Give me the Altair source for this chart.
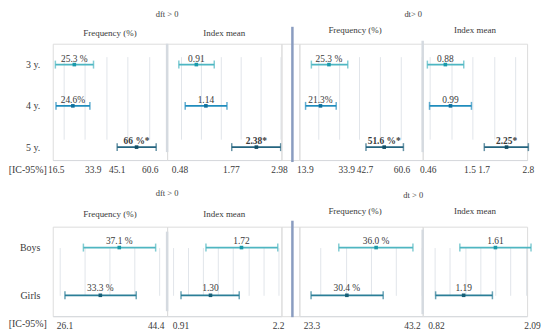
import altair as alt
import pandas as pd

SERIF = "Liberation Serif, Times New Roman, serif"
TXT = "#3a3a3a"

# ---------------- data ----------------
age_groups = ["3 y.", "4 y.", "5 y."]
sex_groups = ["Boys", "Girls"]
significant = ["5 y."]

group_titles_top = ["dft > 0", "dt> 0"]
group_titles_bottom = ["dft > 0", "dt > 0"]
column_titles = ["Frequency (%)", "Index mean"]
ic_label = "[IC-95%]"

# top: age groups
dft_age_freq_mid = [25.0, 24.3, 54.2]
dft_age_freq_lo = [16.1, 16.4, 45.1]
dft_age_freq_hi = [34.0, 32.3, 63.4]
dft_age_freq_txt = ["25.3 %", "24.6%", "66 %*"]
dft_age_freq_ticks = [16.5, 33.9, 45.1, 60.6]

dft_age_idx_mid = [0.89, 1.13, 2.40]
dft_age_idx_lo = [0.45, 0.61, 1.78]
dft_age_idx_hi = [1.34, 1.66, 3.01]
dft_age_idx_txt = ["0.91", "1.14", "2.38*"]
dft_age_idx_ticks = [0.48, 1.77, 2.98]

dt_age_freq_mid = [25.3, 21.2, 52.0]
dt_age_freq_lo = [16.8, 14.0, 43.2]
dt_age_freq_hi = [34.4, 28.8, 61.3]
dt_age_freq_txt = ["25.3 %", "21.3%", "51.6 %*"]
dt_age_freq_ticks = [13.9, 33.9, 42.7, 60.6]

dt_age_idx_mid = [0.86, 0.98, 2.29]
dt_age_idx_lo = [0.44, 0.49, 1.77]
dt_age_idx_hi = [1.29, 1.47, 2.80]
dt_age_idx_txt = ["0.88", "0.99", "2.25*"]
dt_age_idx_ticks = [0.46, 1.5, 1.7, 2.8]

# bottom: sex
dft_sex_freq_mid = [37.0, 33.2]
dft_sex_freq_lo = [29.8, 26.1]
dft_sex_freq_hi = [44.3, 40.4]
dft_sex_freq_txt = ["37.1 %", "33.3 %"]
dft_sex_freq_ticks = [26.1, 44.4]

dft_sex_idx_mid = [1.71, 1.30]
dft_sex_idx_lo = [1.24, 0.91]
dft_sex_idx_hi = [2.19, 1.68]
dft_sex_idx_txt = ["1.72", "1.30"]
dft_sex_idx_ticks = [0.91, 2.2]

dt_sex_freq_mid = [36.0, 30.2]
dt_sex_freq_lo = [28.6, 23.1]
dt_sex_freq_hi = [43.3, 37.4]
dt_sex_freq_txt = ["36.0 %", "30.4 %"]
dt_sex_freq_ticks = [23.3, 43.2]

dt_sex_idx_mid = [1.60, 1.18]
dt_sex_idx_lo = [1.13, 0.81]
dt_sex_idx_hi = [2.07, 1.56]
dt_sex_idx_txt = ["1.61", "1.19"]
dt_sex_idx_ticks = [0.82, 2.09]

# ---------------- styles ----------------
age_colors = ["#4db6c2", "#1f8cbd", "#24647f"]
age_dots = ["#1a9aab", "#0f6f9c", "#114e66"]
sex_colors = ["#4fb6c1", "#2b7e97"]
sex_dots = ["#1a98a8", "#175f77"]

GRID = "#e1e5ea"
DOMAIN = "#d6d9dd"
SEP_LIGHT = "#d5dae0"
SEP_DARK = "#8a9cc0"

WA, WB, WGAP, WC, WD = 115, 115, 18, 124, 105
H1, H2 = 117, 90

FS_GROUP = 8.5
FS_COL = 9
FS_DATA = 9.5
FS_TICK = 9.5
FS_ROW = 10
FS_IC = 10


def const_text(text, x, y, size, align="center"):
    return alt.Chart(pd.DataFrame({"t": [text]})).mark_text(
        font=SERIF, fontSize=size, align=align, baseline="middle", color=TXT
    ).encode(x=alt.value(x), y=alt.value(y), text="t:N")


def vline(x, y1, y2, color, w):
    return alt.Chart(pd.DataFrame({"a": [0]})).mark_rule(
        color=color, strokeWidth=w
    ).encode(x=alt.value(x), y=alt.value(y1), y2=alt.value(y2))


def tick_table(ticks, domain, width, min_px=12):
    """Join labels that would sit on top of each other into one text."""
    px_per_unit = width / (domain[1] - domain[0])
    groups = [[ticks[0]]]
    for t in ticks[1:]:
        if (t - groups[-1][-1]) * px_per_unit < min_px:
            groups[-1].append(t)
        else:
            groups.append([t])
    return pd.DataFrame({
        "v": [sum(g) / len(g) for g in groups],
        "s": [" ".join(str(t) for t in g) for g in groups],
    })


def panel(cats, colors, dots, mid, lo, hi, txt, ticks, domain, width, height,
          yrange, tickcount, label_dy, show_y=False, extras=()):
    df = pd.DataFrame({"cat": cats, "mid": mid, "lo": lo, "hi": hi, "txt": txt})
    xs = alt.Scale(domain=domain, nice=False, zero=False)
    xaxis = alt.Axis(title=None, labels=False, ticks=False, grid=True,
                     gridColor=GRID, gridWidth=1, domainColor=DOMAIN,
                     domainWidth=1, tickCount=tickcount)
    ys = alt.Scale(type="point", domain=cats, range=yrange, padding=0)
    if show_y:
        yaxis = alt.Axis(title=None, domain=False, ticks=False, grid=False,
                         labelPadding=13, labelFont=SERIF, labelFontSize=FS_ROW,
                         labelColor=TXT)
    else:
        yaxis = None
    Y = alt.Y("cat:N", scale=ys, axis=yaxis, sort=cats)
    col = alt.Color("cat:N", scale=alt.Scale(domain=cats, range=colors), legend=None)

    base = alt.Chart(df)
    rule = base.mark_rule(strokeWidth=1.7).encode(
        x=alt.X("lo:Q", scale=xs, axis=xaxis), x2="hi:Q", y=Y, color=col)
    cap_lo = base.mark_tick(size=8, thickness=1.5).encode(
        x=alt.X("lo:Q", scale=xs, axis=xaxis), y=Y, color=col)
    cap_hi = base.mark_tick(size=8, thickness=1.5).encode(
        x=alt.X("hi:Q", scale=xs, axis=xaxis), y=Y, color=col)
    dot = base.mark_square(size=13, opacity=1).encode(
        x=alt.X("mid:Q", scale=xs, axis=xaxis), y=Y,
        fill=alt.Fill("cat:N", scale=alt.Scale(domain=cats, range=dots), legend=None))
    lab_norm = base.transform_filter(
        {"not": {"field": "cat", "oneOf": significant}}).mark_text(
        font=SERIF, fontSize=FS_DATA, color=TXT, baseline="alphabetic",
        dy=label_dy).encode(
        x=alt.X("mid:Q", scale=xs, axis=xaxis), y=Y, text="txt:N")
    lab_bold = base.transform_filter(
        {"field": "cat", "oneOf": significant}).mark_text(
        font=SERIF, fontSize=FS_DATA, color=TXT, baseline="alphabetic",
        dy=label_dy, fontWeight="bold").encode(
        x=alt.X("mid:Q", scale=xs, axis=xaxis), y=Y, text="txt:N")
    tick_labels = alt.Chart(tick_table(ticks, domain, width)).mark_text(
        font=SERIF, fontSize=FS_TICK, color=TXT, baseline="middle").encode(
        x=alt.X("v:Q", scale=xs, axis=xaxis), y=alt.value(height + 10), text="s:N")
    layers = [*extras, rule, cap_lo, cap_hi, dot, lab_norm, lab_bold, tick_labels]
    return alt.layer(*layers).properties(width=width, height=height)


def gap(height, y1, y2):
    return alt.layer(vline(WGAP - 7, y1, y2, SEP_DARK, 2.5)).properties(
        width=WGAP, height=height)


# ---------------- top row ----------------
yr1 = [21, 104]
top_A = panel(age_groups, age_colors, age_dots, dft_age_freq_mid, dft_age_freq_lo,
              dft_age_freq_hi, dft_age_freq_txt, dft_age_freq_ticks, [14.87, 68.53],
              WA, H1, yr1, 5, -3, show_y=True,
              extras=[const_text(column_titles[0], WA / 2, -11, FS_COL),
                      const_text(group_titles_top[0], (WA + WB) / 2, -30, FS_GROUP),
                      const_text(ic_label, -6, H1 + 10, FS_IC, align="right")])
top_B = panel(age_groups, age_colors, age_dots, dft_age_idx_mid, dft_age_idx_lo,
              dft_age_idx_hi, dft_age_idx_txt, dft_age_idx_ticks, [0.155, 3.03],
              WB, H1, yr1, 6, -3,
              extras=[const_text(column_titles[1], WB / 2, -11, FS_COL),
                      vline(0, 0, H1 - 8, SEP_LIGHT, 2.5)])
top_gap = gap(H1, -17, H1 + 2)
top_C = panel(age_groups, age_colors, age_dots, dt_age_freq_mid, dt_age_freq_lo,
              dt_age_freq_hi, dt_age_freq_txt, dt_age_freq_ticks, [11.0, 70.6],
              WC, H1, yr1, 6, -3,
              extras=[const_text(column_titles[0], WC / 2 - 6, -14, FS_COL),
                      const_text(group_titles_top[1], (WC + WD) / 2, -30, FS_GROUP)])
top_D = panel(age_groups, age_colors, age_dots, dt_age_idx_mid, dt_age_idx_lo,
              dt_age_idx_hi, dt_age_idx_txt, dt_age_idx_ticks, [0.33, 2.77],
              WD, H1, yr1, 5, -3,
              extras=[const_text(column_titles[1], WD / 2, -14, FS_COL),
                      vline(0, -3, H1 - 8, SEP_LIGHT, 2.5)])

# ---------------- bottom row ----------------
yr2 = [21, 69]
bot_A = panel(sex_groups, sex_colors, sex_dots, dft_sex_freq_mid, dft_sex_freq_lo,
              dft_sex_freq_hi, dft_sex_freq_txt, dft_sex_freq_ticks, [23.65, 46.6],
              WA, H2, yr2, 5, -4, show_y=True,
              extras=[const_text(column_titles[0], WA / 2, -13, FS_COL),
                      const_text(group_titles_bottom[0], (WA + WB) / 2, -34, FS_GROUP),
                      const_text(ic_label, -6, H2 + 8, FS_IC, align="right")])
bot_B = panel(sex_groups, sex_colors, sex_dots, dft_sex_idx_mid, dft_sex_idx_lo,
              dft_sex_idx_hi, dft_sex_idx_txt, dft_sex_idx_ticks, [0.726, 2.239],
              WB, H2, yr2, 8, -4,
              extras=[const_text(column_titles[1], WB / 2, -13, FS_COL),
                      vline(0, 5, H2 - 5, SEP_LIGHT, 2.5)])
bot_gap = gap(H2, -6, H2 + 1)
bot_C = panel(sex_groups, sex_colors, sex_dots, dt_sex_freq_mid, dt_sex_freq_lo,
              dt_sex_freq_hi, dt_sex_freq_txt, dt_sex_freq_ticks, [20.78, 45.23],
              WC, H2, yr2, 5, -4,
              extras=[const_text(column_titles[0], WC / 2 - 6, -16, FS_COL),
                      const_text(group_titles_bottom[1], (WC + WD) / 2, -32, FS_GROUP)])
bot_D = panel(sex_groups, sex_colors, sex_dots, dt_sex_idx_mid, dt_sex_idx_lo,
              dt_sex_idx_hi, dt_sex_idx_txt, dt_sex_idx_ticks, [0.639, 2.018],
              WD, H2, yr2, 7, -4,
              extras=[const_text(column_titles[1], WD / 2, -16, FS_COL),
                      vline(0, 3, H2 - 2, SEP_LIGHT, 2.5)])

chart = alt.concat(
    top_A, top_B, top_gap, top_C, top_D,
    bot_A, bot_B, bot_gap, bot_C, bot_D,
    columns=5, spacing={"row": 67, "column": 0}, bounds="flush",
).resolve_scale(
    x="independent", y="independent", color="independent", fill="independent"
).properties(padding=0).configure_view(stroke=None).configure(background="white")

chart.save("out.html", embed_options={"renderer": "svg", "actions": False})
